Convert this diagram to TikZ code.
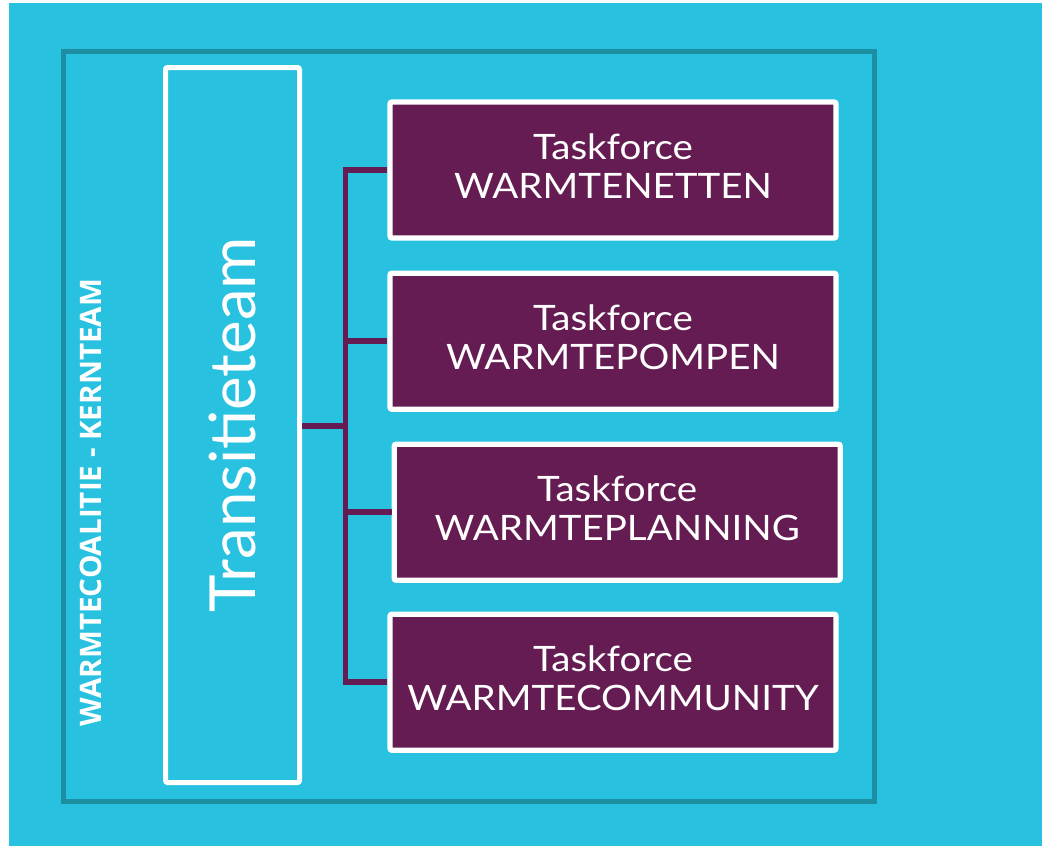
\documentclass[tikz,border=0pt]{standalone}
\usepackage{fontspec}
\setmainfont{Lato}
\newfontfamily\taskfont[FakeStretch=1.1]{Lato}
\newfontfamily\labelfont{Open Sans}
\usetikzlibrary{positioning}

\definecolor{sky}{RGB}{40,193,224}
\definecolor{tealframe}{RGB}{30,143,163}
\definecolor{plum}{RGB}{101,28,82}

\tikzset{
    taskbox/.style={draw=white, fill=plum, line width=2.65pt, rounded corners=1pt,
        minimum width=223pt, minimum height=68pt, text=white, align=center,
        inner sep=0pt, text depth=4pt, font=\taskfont\fontsize{17.5}{19.5}\selectfont},
    teambox/.style={draw=white, line width=2.5pt, rounded corners=1pt,
        minimum width=67pt, minimum height=357.5pt, inner sep=0pt},
    link/.style={draw=plum, line width=2.75pt}
}

\begin{document}
\begin{tikzpicture}[x=0.5pt, y=-0.5pt]
    \useasboundingbox (0,0) rectangle (1042,846);

    % Background
    \fill[sky] (9,3) rectangle (1042,846);

    % Kernteam frame
    \draw[tealframe, line width=2.5pt] (63.5,51) rectangle (874.5,801.5);
    \node[rotate=90, text=white, font=\labelfont\bfseries\fontsize{14.8}{16}\selectfont]
        (kern) at (91,502.5) {WARMTECOALITIE - KERNTEAM};

    % Transitieteam
    \node[teambox] (trans) at (232.5,425) {};
    \node[rotate=90, text=white, font=\fontsize{31.8}{34}\selectfont]
        (transtext) at (trans.center) {Transitieteam};

    % Taskforces
    \node[taskbox] (warmtenetten) at (613,170) {Taskforce\\WARMTENETTEN};
    \node[taskbox] (warmtepompen) at (613,341.2) {Taskforce\\WARMTEPOMPEN};
    \node[taskbox] (warmteplanning) at (617.2,512.2) {Taskforce\\WARMTEPLANNING};
    \node[taskbox] (warmtecommunity) at (613,682.2) {Taskforce\\WARMTECOMMUNITY};

    % Connectors
    \coordinate (bus) at (345.5,426);
    \draw[link] (trans.east |- bus) -- (bus);
    \draw[link, line cap=rect] (bus |- warmtenetten.west) -- (bus |- warmtecommunity.west);
    \foreach \t in {warmtenetten, warmtepompen, warmteplanning, warmtecommunity}
        \draw[link] (bus |- \t.west) -- (\t.west);
\end{tikzpicture}
\end{document}
